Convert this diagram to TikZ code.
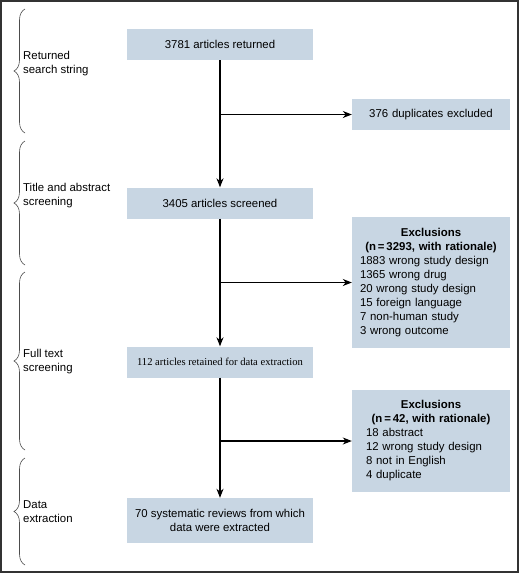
\documentclass[tikz,border=0pt]{standalone}
\usepackage{fontspec}
\setmainfont{Liberation Sans}
\newfontfamily\timesfont{Liberation Serif}
\usetikzlibrary{arrows.meta,decorations.pathreplacing}
\definecolor{boxblue}{HTML}{C8D6E3}
\tikzstyle{stage}=[rectangle,fill=boxblue,minimum width=186pt,minimum height=31pt,inner sep=0pt,align=center]
\tikzstyle{excl}=[rectangle,fill=boxblue,text width=158pt,inner sep=0pt,align=left]
\tikzstyle{flow} = [draw,line width=1.1pt,-{Stealth[length=9pt,width=7pt]}]
\tikzstyle{phase} = [draw=black!70,line width=0.6pt,decorate,decoration={brace,amplitude=11pt}]
\tikzstyle{phasetext} = [anchor=west,align=left,inner sep=0pt]

\begin{document}
\begin{tikzpicture}[x=1pt,y=-1pt,font=\fontsize{11.4}{14}\selectfont]
    \useasboundingbox (0,0) rectangle (520,574);
    \draw[line width=1.2pt,draw=black!80] (1,1) rectangle (518,572);
    % First we draw the main stages
    \node[stage] (ret) at (220,44.5) {3781 articles returned};
    \node[stage] (scr) at (220,203) {3405 articles screened};
    \node[stage] (kept) at (220,362) {\timesfont\fontsize{10.6}{13}\selectfont 112 articles retained for data extraction};
    \node[stage,minimum height=45pt] (data) at (220,520.5) {70 systematic reviews from which\\data were extracted};
    % Then the exclusion boxes on the right
    \node[excl,minimum height=31pt] (dup) at (431,114.5) {\centering 376 duplicates excluded\par};
    \node[excl,minimum height=131pt] (ex1) at (431,282.5) {{\centering\bfseries Exclusions\\(n\,=\,3293, with rationale)\par}
        {\leftskip=8pt 1883 wrong study design\\1365 wrong drug\\20 wrong study design\\15 foreign language\\7 non-human study\\3 wrong outcome\par}};
    \node[excl,minimum height=102pt] (ex2) at (431,441) {{\centering\bfseries Exclusions\\(n\,=\,42, with rationale)\par}
        {\leftskip=14pt 18 abstract\\12 wrong study design\\8 not in English\\4 duplicate\par}};
    % Connect the stages with arrows
    \foreach \source/\dest in {ret/scr, scr/kept, kept/data}
        \path[flow] (\source) -- (\dest);
    \foreach \source/\dest in {ret/dup, scr/ex1, kept/ex2}
        \path[flow] (\source.south |- \dest.west) -- (\dest.west);
    % Braces and phase names on the left
    \foreach \top/\bot in {9/133, 141/265, 272/450, 458/565}
        \path[phase] (25,\bot) -- (25,\top);
    \node[phasetext] (p1) at (23,64) {Returned\\search string};
    \node[phasetext] (p2) at (23,196) {Title and abstract\\screening};
    \node[phasetext] (p3) at (23,362) {Full text\\screening};
    \node[phasetext] (p4) at (23,512) {Data\\extraction};
\end{tikzpicture}
\end{document}
